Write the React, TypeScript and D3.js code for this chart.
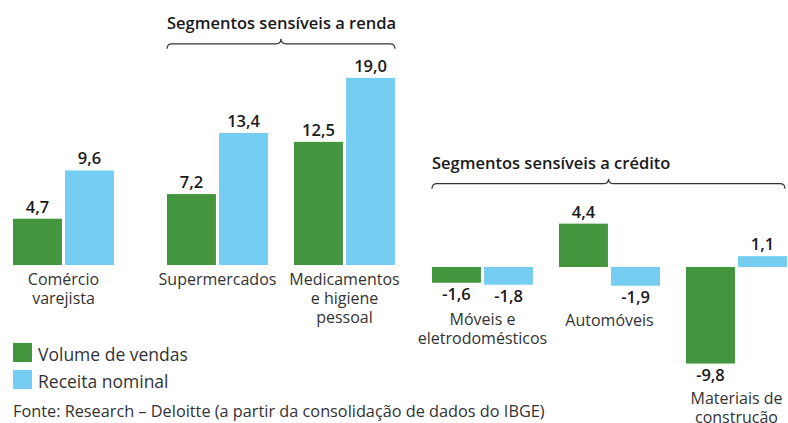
import * as d3 from 'd3';

const categories = ['Comércio varejista', 'Supermercados', 'Medicamentos e higiene pessoal', 'Móveis e eletrodomésticos', 'Automóveis', 'Materiais de construção'];
const categoryLines = [['Comércio', 'varejista'], ['Supermercados'], ['Medicamentos', 'e higiene', 'pessoal'], ['Móveis e', 'eletrodomésticos'], ['Automóveis'], ['Materiais de', 'construção']];
const categoryGroup = [0, 1, 1, 2, 2, 2];
const volumeVendas = [4.7, 7.2, 12.5, -1.6, 4.4, -9.8];
const receitaNominal = [9.6, 13.4, 19.0, -1.8, -1.9, 1.1];
const seriesNames = ['Volume de vendas', 'Receita nominal'];
const seriesColors = ['#43963d', '#75cdf2'];
const groupTitles = ['', 'Segmentos sensíveis a renda', 'Segmentos sensíveis a crédito'];
const fonte = 'Fonte: Research – Deloitte (a partir da consolidação de dados do IBGE)';

const W = 788, H = 423;
const FONT = '"Open Sans", "Noto Sans", sans-serif';
const groupGap = [0, 27, 38];
const baseShift = [0, 0, 2];
const bracketLift = [0, 34, 40];
const fmt = (v: number) => v.toFixed(1).replace('.', ',');

export default function App() {
  const step = 127;
  const inner = d3.scaleBand<number>().domain([0, 1]).range([0, 101]).paddingInner(0.06);
  const xCenter = (i: number) => 63.5 + i * step + groupGap[categoryGroup[i]];
  const y = d3.scaleLinear().domain([0, 19]).range([265, 265 - 19 * 9.85]);

  const rows = categories.map((c, i) => ({ c, i, vals: [volumeVendas[i], receitaNominal[i]] }));

  const brackets = [1, 2].map(g => {
    const idx = rows.filter(r => categoryGroup[r.i] === g).map(r => r.i);
    const x0 = xCenter(idx[0]) - 50.5;
    const x1 = Math.min(xCenter(idx[idx.length - 1]) + 50.5, W - 3);
    const maxV = d3.max(idx, i => Math.max(volumeVendas[i], receitaNominal[i], 0)) as number;
    const ly = y(maxV) + baseShift[g] - bracketLift[g];
    return { g, x0, x1, ly };
  });

  return (
    <svg width={W} height={H} style={{ position: 'absolute', left: 0, top: 0, fontFamily: FONT }}>
      {rows.map(r => {
        const cx = xCenter(r.i);
        const sh = baseShift[categoryGroup[r.i]];
        const left = cx - 50.5;
        const minV = Math.min(...r.vals);
        const labelTop = minV < 0 ? y(minV) + sh + 40 : y(0) + sh + 20;
        return (
          <g key={r.c}>
            {r.vals.map((v, s) => {
              const bx = left + (inner(s) as number);
              const y0 = y(0) + sh, y1 = y(v) + sh;
              return (
                <g key={s}>
                  <rect x={bx} y={Math.min(y0, y1)} width={inner.bandwidth()} height={Math.abs(y1 - y0)}
                    fill={seriesColors[s]} />
                  <text x={bx + inner.bandwidth() / 2} y={v >= 0 ? y1 - 6 : y1 + 17} textAnchor="middle"
                    fontSize={16.5} fontWeight={600} fill="#1a1a1a">{fmt(v)}</text>
                </g>
              );
            })}
            {categoryLines[r.i].map((t, k) => (
              <text key={k} x={cx} y={labelTop + k * 19} textAnchor="middle" fontSize={16} fill="#333">{t}</text>
            ))}
          </g>
        );
      })}

      {brackets.map(b => {
        const mid = (b.x0 + b.x1) / 2;
        const ly = b.ly;
        const d = `M${b.x0},${ly + 5} Q${b.x0},${ly} ${b.x0 + 5},${ly} L${mid - 5},${ly} Q${mid},${ly} ${mid},${ly - 5} Q${mid},${ly} ${mid + 5},${ly} L${b.x1 - 5},${ly} Q${b.x1},${ly} ${b.x1},${ly + 5}`;
        return (
          <g key={b.g}>
            <path d={d} fill="none" stroke="#333" strokeWidth={1.2} />
            <text x={b.x0} y={ly - 15} fontSize={16.5} fontWeight={600} fill="#1a1a1a">{groupTitles[b.g]}</text>
          </g>
        );
      })}

      {seriesNames.map((n, s) => (
        <g key={n} transform={`translate(13,${343 + s * 27})`}>
          <rect width={19} height={19} fill={seriesColors[s]} />
          <text x={25} y={18} fontSize={17.5} fill="#333">{n}</text>
        </g>
      ))}
      <text x={13} y={417} fontSize={16.3} fill="#333">{fonte}</text>
    </svg>
  );
}
